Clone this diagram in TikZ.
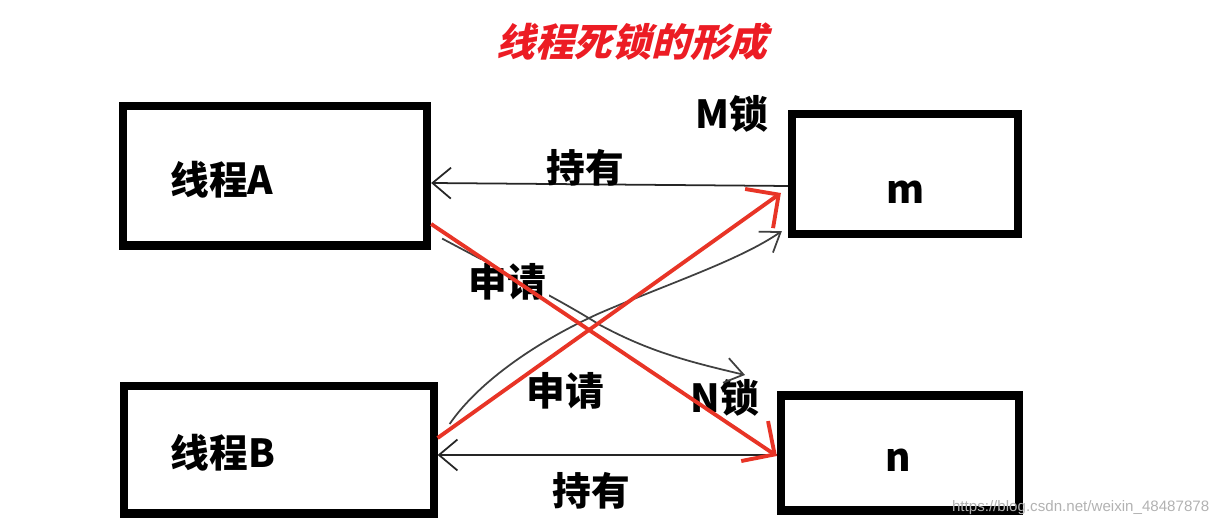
\documentclass[tikz,border=0pt]{standalone}
\usepackage{fontspec}
\setmainfont{Liberation Sans}
\newfontfamily\cjk{Noto Sans CJK SC}
\newfontfamily\cjkit{Noto Sans CJK SC}[FakeSlant=0.25]
\usepackage{xcolor}
\usepackage{tikz}
\usetikzlibrary{arrows.meta, positioning, calc}
\definecolor{penred}{RGB}{232,52,38}
\definecolor{titlered}{RGB}{236,28,36}

\begin{document}
\begin{tikzpicture}[
    x=0.01cm, y=-0.01cm,
    box/.style={rectangle, draw, line width=2.3pt, inner sep=0pt},
    lbl/.style={font=\cjk\bfseries\fontsize{11}{13}\selectfont, inner sep=1pt},
    hold/.style={draw=black!85, line width=0.5pt, -{Straight Barb[angle=80:2.4mm]}},
    ask/.style={draw=black!75, line width=0.5pt, -{Straight Barb[angle=70:2.2mm]}},
    grab/.style={draw=penred, line width=1.1pt, -{Straight Barb[angle=90:3.4mm]}},
]
\useasboundingbox (0,0) rectangle (1220,528);

% title
\node[font=\cjkit\bfseries\fontsize{11}{13}\selectfont, text=titlered] (title) at (632,42) {线程死锁的形成};

% threads
\node[box, minimum width=3.04cm, minimum height=1.39cm] (ta) at (275,176) {};
\node[lbl] at (222,180) {线程A};
\node[box, minimum width=3.09cm, minimum height=1.27cm] (tb) at (279,450) {};
\node[lbl] at (223,453) {线程B};

% locks
\node[box, minimum width=2.26cm, minimum height=1.20cm] (m) at (905,174) {};
\node[lbl] at (906,192) {m};
\node[lbl] (mlock) at (732,114) {M锁};
\node[box, minimum width=2.38cm, minimum height=1.15cm] (n) at (900,453) {};
\node[lbl] at (898,460) {n};
\node[lbl] (nlock) at (725,398) {N锁};

% held locks
\draw[hold] ($(m.west)+(0,12)$) -- ($(ta.east)+(0,7)$);
\node[lbl] at (585,168) {持有};
\draw[hold] ($(n.west)+(0,2)$) -- ($(tb.east)+(0,5)$);
\node[lbl] at (591,491) {持有};

% requests
\coordinate (nreq) at (745,375);
\draw[ask] ($(ta.south east)+(11,-11)$) .. controls (520,280) and (560,300) .. (600,325)
    .. controls (650,352) and (690,362) .. (nreq);
\draw[ask] ($(tb.east)+(12,-26)$) .. controls (480,380) and (540,340) .. (600,313)
    .. controls (670,283) and (740,260) .. ($(m.south west)+(-6,-7)$);
\node[lbl, fill=white] at (507,282) {申请};
\node[lbl] at (565,391) {申请};

% deadlock
\draw[grab] ($(ta.east)+(0,48)$) -- ($(n.west)+(0,3)$);
\draw[grab] ($(tb.east)+(0,-12)$) -- ($(m.west)+(-7,19)$);

% watermark
\node[font=\fontsize{4.3}{5}\selectfont, text=black!30, anchor=east, inner sep=0pt] (mark) at (1210,508) {https://blog.csdn.net/weixin\_48487878};

\end{tikzpicture}
\end{document}
